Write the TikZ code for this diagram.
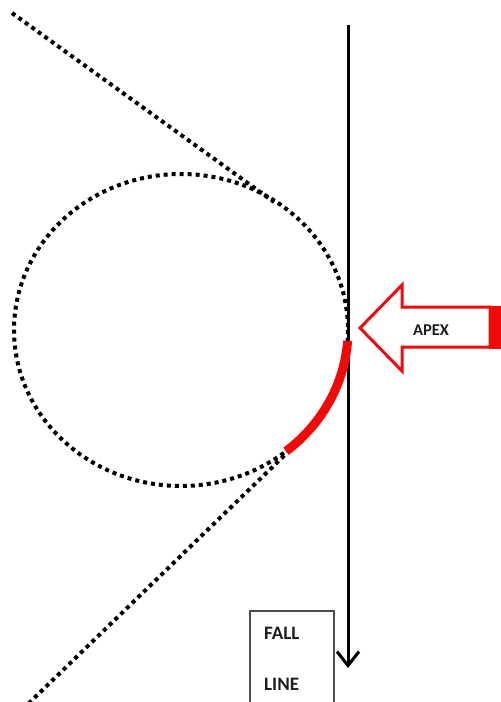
\documentclass[tikz,border=0pt]{standalone}
\usepackage{fontspec}
\setmainfont{Carlito}
\usetikzlibrary{arrows.meta,calc}
\definecolor{apexred}{RGB}{240,10,10}
\definecolor{txt}{RGB}{30,30,30}
\begin{document}
\begin{tikzpicture}[x=1pt,y=-1pt,
  dotline/.style={line width=4pt, dash pattern=on 4pt off 4pt},
  lbl/.style={font=\bfseries, text=txt, inner sep=0pt},
]
\useasboundingbox (0,0) rectangle (501,702);
\clip (0,0) rectangle (501,702);
% circle
\coordinate (C) at (181,330);
\draw[dotline] (C) ellipse [x radius=167, y radius=156];
% tangent lines
\coordinate (T1s) at (12,13);
\coordinate (T1e) at (274,202);
\draw[dotline] (T1s) -- (T1e);
\coordinate (T2s) at (290,450);
\coordinate (T2e) at (27,705);
\draw[dotline] (T2s) -- (T2e);
% fall line
\coordinate (Vtop) at (348,25);
\coordinate (Vbot) at (348,668);
\draw[line width=3pt, -{Straight Barb[length=14pt, width=22pt, line width=3pt]}] (Vtop) -- (Vbot);
% red arc
\coordinate (Rs) at ($(C)+(4:167 and 156)$);
\draw[apexred, line width=9pt] (Rs) arc[start angle=4, end angle=51, x radius=167, y radius=156];
% APEX arrow
\coordinate (Atip) at (360,328);
\draw[apexred, line width=3pt, fill=white, line join=miter]
  (Atip) -- (402,285) -- (402,307) -- (490,307) -- (490,347) -- (402,347) -- (402,371) -- cycle;
\fill[apexred] (489,305.5) rectangle (501,348.5);
\node[lbl, font=\bfseries\fontsize{16.5}{16.5}\selectfont] (apex) at (431,330) {APEX};
% fall line label box
\draw[black!70, line width=1.3pt] (250,611) rectangle (334,730);
\node[lbl, anchor=west, font=\bfseries\fontsize{19}{19}\selectfont] (fall) at (264,633.5) {FALL};
\node[lbl, anchor=west, font=\bfseries\fontsize{19}{19}\selectfont] (line) at (264,684) {LINE};
\end{tikzpicture}
\end{document}
